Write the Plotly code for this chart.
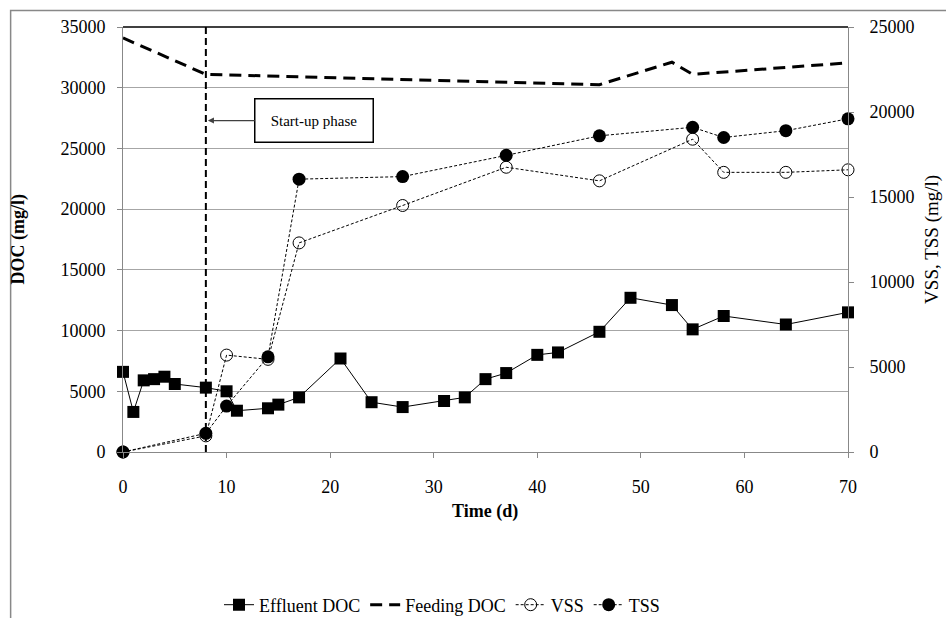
import plotly.graph_objects as go

# ---- data ----
eff_x = [0, 1, 2, 3, 4, 5, 8, 10, 11, 14, 15, 17, 21, 24, 27, 31, 33, 35, 37, 40, 42, 46, 49, 53, 55, 58, 64, 70]
eff_doc = [6600, 3300, 5900, 6000, 6200, 5600, 5300, 5000, 3400, 3600, 3900, 4500, 7700, 4100, 3700,
           4200, 4500, 6000, 6500, 8000, 8200, 9900, 12700, 12100, 10100, 11200, 10500, 11500]
feed_x = [0, 8, 46, 53, 55, 70]
feed_doc = [34100, 31100, 30250, 32100, 31100, 32050]
ss_x = [0, 8, 10, 14, 17, 27, 37, 46, 55, 58, 64, 70]
vss = [0, 950, 5700, 5450, 12300, 14500, 16750, 15950, 18400, 16450, 16450, 16600]
tss = [0, 1100, 2700, 5600, 16050, 16200, 17450, 18600, 19100, 18500, 18900, 19600]
startup_day = 8

FONT = "Liberation Serif"

fig = go.Figure()
fig.add_trace(go.Scatter(x=eff_x, y=eff_doc, name="Effluent DOC", mode="lines+markers",
                         line=dict(color="black", width=1), cliponaxis=False,
                         marker=dict(symbol="square", size=12, color="black")))
fig.add_trace(go.Scatter(x=feed_x, y=feed_doc, name="Feeding DOC", mode="lines",
                         line=dict(color="black", width=3, dash="12px,7px")))
fig.add_trace(go.Scatter(x=ss_x, y=vss, name="VSS", mode="lines+markers", yaxis="y2",
                         line=dict(color="black", width=1, dash="3px,2px"), cliponaxis=False,
                         marker=dict(symbol="circle-open", size=12, color="black", line=dict(width=1))))
fig.add_trace(go.Scatter(x=ss_x, y=tss, name="TSS", mode="lines+markers", yaxis="y2",
                         line=dict(color="black", width=1, dash="3px,2px"), cliponaxis=False,
                         marker=dict(symbol="circle", size=13, color="black")))

axis_common = dict(showline=True, linecolor="#888888", linewidth=1, ticks="outside", ticklen=5,
                   tickcolor="#888888", tickfont=dict(family=FONT, size=18, color="black"),
                   zeroline=False, tickformat="d", automargin=False)

fig.update_layout(
    width=946, height=618,
    margin=dict(l=123, r=98, t=27, b=166),
    paper_bgcolor="white", plot_bgcolor="white",
    font=dict(family=FONT, size=18, color="black"),
    xaxis=dict(range=[0, 70], dtick=10, showgrid=False, ticklabelstandoff=13, **axis_common),
    yaxis=dict(range=[0, 35000], dtick=5000, showgrid=True, gridcolor="#a6a6a6", gridwidth=1,
               ticklabelstandoff=8, **axis_common),
    yaxis2=dict(range=[0, 25000], dtick=5000, overlaying="y", side="right", showgrid=False,
                ticklabelstandoff=12, **axis_common),
    showlegend=True,
    legend=dict(orientation="h", x=0.44, xanchor="center", y=(618 - 605) / 618, yanchor="middle",
                yref="container", font=dict(family=FONT, size=18), bgcolor="rgba(0,0,0,0)"),
)

# frame around chart
fig.add_shape(type="rect", xref="paper", yref="paper", x0=-0.155, x1=1.3, y0=-0.6, y1=1.039,
              line=dict(color="#888888", width=1.5), layer="below")
# top border of plot area
fig.add_shape(type="line", xref="paper", yref="paper", x0=0, x1=1, y0=1, y1=1,
              line=dict(color="black", width=1.5))
# start-up vertical line
fig.add_shape(type="line", xref="x", yref="paper", x0=startup_day, x1=startup_day, y0=0, y1=1,
              line=dict(color="black", width=2, dash="7px,4px"))

# axis titles
fig.add_annotation(text="<b>DOC (mg/l)</b>", xref="paper", yref="paper", x=-0.1448, y=0.5,
                   textangle=-90, showarrow=False, font=dict(family=FONT, size=18),
                   xanchor="center", yanchor="middle")
fig.add_annotation(text="VSS, TSS (mg/l)", xref="paper", yref="paper", x=1.115, y=0.5,
                   textangle=-90, showarrow=False, font=dict(family=FONT, size=19),
                   xanchor="center", yanchor="middle")
fig.add_annotation(text="<b>Time (d)</b>", xref="paper", yref="paper", x=0.499, y=-0.14,
                   showarrow=False, font=dict(family=FONT, size=18),
                   xanchor="center", yanchor="middle")

# start-up annotation
fig.add_annotation(text="Start-up phase", x=8.2, y=27290, xref="x", yref="y",
                   showarrow=True, ax=106, ay=0, arrowhead=2, arrowsize=1, arrowwidth=1.2,
                   arrowcolor="#404040", bordercolor="black", borderwidth=1.5, borderpad=0,
                   width=117, height=42, bgcolor="white",
                   font=dict(family=FONT, size=15, color="black"))

fig.write_html("out.html", config={"displayModeBar": False},
               post_script="document.body.style.margin='0px';")
